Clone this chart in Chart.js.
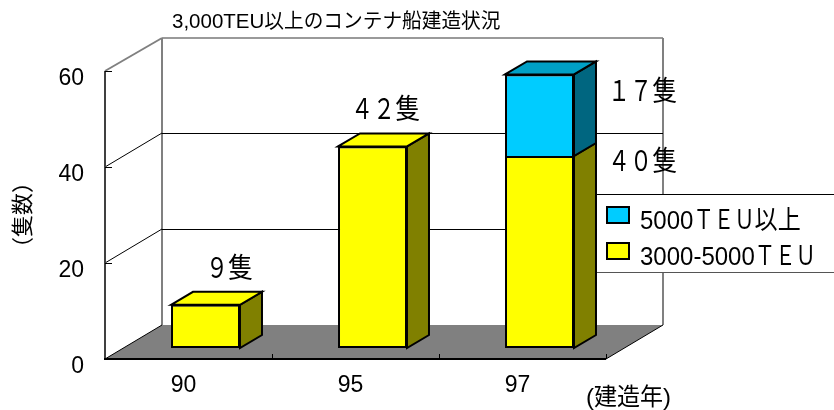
<!DOCTYPE html>
<html>
<head>
<meta charset="utf-8">
<style>
  html, body { margin: 0; padding: 0; background: #fff; }
  canvas { display: block; }
</style>
<script src="https://cdn.jsdelivr.net/npm/chart.js@4"></script>
</head>
<body>
<canvas id="shipChart" width="834" height="410"></canvas>
<script>
const years = ['90', '95', '97'];
const mid = [9, 42, 40];
const large = [null, null, 17];
const midLabel = '3000-5000ＴＥＵ';
const largeLabel = '5000ＴＥＵ以上';
const yTicks = [0, 20, 40, 60];

const chartTitle = '3,000TEU以上のコンテナ船建造状況';
const yTitle = '（隻数）';
const xTitle = '(建造年)';

const FONT = '"Liberation Sans", "Noto Sans CJK JP", sans-serif';
// depth of the 3D box and where the bars sit inside it
const DEPTH_X = 57, DEPTH_Y = 34;
const BAR_X = 17, BAR_Y = 11;
const BAR_DX = 22, BAR_DY = 13;

// left/baseline of the hand placed value labels, per dataset
const valueSpots = [
  [[206, 278], [351, 119], [608, 171]],
  [null, null, [608, 101]]
];

// fullwidth latin is narrow in the original, kanji is not. everything is a bit tall
function drawText(ctx, text, x, y, size, sy) {
  ctx.font = size + 'px ' + FONT;
  ctx.textAlign = 'left';
  ctx.textBaseline = 'alphabetic';
  ctx.fillStyle = '#000';
  const parts = text.match(/[\x00-\x7f]+|[\uff01-\uff5e]+|[^\x00-\x7f\uff01-\uff5e]+/g);
  parts.forEach(p => {
    const sx = /^[\uff01-\uff5e]/.test(p) ? 0.85 : (/^[\x00-\x7f]/.test(p) ? 1 : 0.96);
    ctx.save();
    ctx.translate(x, y);
    ctx.scale(sx, sy || 1);
    ctx.fillText(p, 0, 0);
    ctx.restore();
    x += ctx.measureText(p).width * sx;
  });
}

function toFull(n) {
  return String(n).replace(/[0-9]/g, d => String.fromCharCode(d.charCodeAt(0) + 0xfee0));
}

function poly(ctx, pts, fill, stroke, lw) {
  ctx.beginPath();
  pts.forEach((p, i) => i ? ctx.lineTo(p[0], p[1]) : ctx.moveTo(p[0], p[1]));
  ctx.closePath();
  if (fill) { ctx.fillStyle = fill; ctx.fill(); }
  if (stroke) { ctx.strokeStyle = stroke; ctx.lineWidth = lw; ctx.stroke(); }
}

function line(ctx, x1, y1, x2, y2, color, lw) {
  ctx.beginPath();
  ctx.moveTo(x1, y1);
  ctx.lineTo(x2, y2);
  ctx.strokeStyle = color;
  ctx.lineWidth = lw;
  ctx.stroke();
}

const box3d = {
  id: 'box3d',
  beforeDatasetsDraw(chart) {
    const { ctx, chartArea: a, scales: { y } } = chart;
    const backL = a.left + DEPTH_X, backR = a.right + DEPTH_X;
    const top = y.getPixelForValue(60), zero = y.getPixelForValue(0);

    // floor
    poly(ctx, [[a.left, zero], [a.right, zero], [backR, zero - DEPTH_Y], [backL, zero - DEPTH_Y]], '#808080');

    // walls
    line(ctx, a.left, top, backL, top - DEPTH_Y + 1, '#808080', 2);
    line(ctx, backL, top - DEPTH_Y + 1, backR, top - DEPTH_Y + 1, '#9a9a9a', 2);
    line(ctx, backL, top - DEPTH_Y + 1, backL, zero - DEPTH_Y, '#808080', 2);
    line(ctx, backR, top - DEPTH_Y + 1, backR, zero - DEPTH_Y, '#808080', 2);

    // gridlines
    [20, 40].forEach(v => {
      const py = Math.round(y.getPixelForValue(v));
      line(ctx, a.left, py, backL, py - DEPTH_Y, '#000', 1);
      line(ctx, backL, py - DEPTH_Y + 0.5, backR, py - DEPTH_Y + 0.5, '#000', 1);
    });

    // front axes
    line(ctx, a.left, zero, backL, zero - DEPTH_Y, '#000', 1);
    line(ctx, a.right, zero, backR, zero - DEPTH_Y, '#000', 1);
    line(ctx, a.left, top, a.left, zero + 1, '#404040', 2);
    line(ctx, a.left - 1, zero, a.right, zero, '#000', 2);
    yTicks.forEach(v => {
      const py = Math.round(y.getPixelForValue(v)) + 0.5;
      line(ctx, a.left, py, a.left + 7, py, '#000', 1);
    });
    const band = (a.right - a.left) / years.length;
    years.forEach((_, i) => {
      const px = Math.round(a.left + band * (i + 1)) + 0.5;
      line(ctx, px, zero - 5, px, zero, '#000', 1);
    });

    // bars stand inside the box, not on the front edge
    ctx.save();
    ctx.translate(BAR_X, -BAR_Y);
  },
  afterDatasetsDraw(chart) {
    const { ctx, data } = chart;
    data.datasets.forEach((ds, d) => {
      chart.getDatasetMeta(d).data.forEach((bar, i) => {
        if (ds.data[i] === null) return;
        const { x, y, base, width } = bar.getProps(['x', 'y', 'base', 'width'], true);
        const r = x + width / 2, l = x - width / 2;
        poly(ctx, [[r, y], [r + BAR_DX, y - BAR_DY], [r + BAR_DX, base - BAR_DY], [r, base]], ds.sideColor, '#000', 2);
        const next = data.datasets[d + 1];
        if (!next || next.data[i] === null) {
          poly(ctx, [[l, y], [l + BAR_DX, y - BAR_DY], [r + BAR_DX, y - BAR_DY], [r, y]], ds.topColor, '#000', 2);
        }
      });
    });
    ctx.restore();
  },
  afterDraw(chart) {
    const { ctx, data } = chart;

    drawText(ctx, chartTitle, 172, 28, 20.5);
    drawText(ctx, xTitle, 586, 405, 24);

    data.datasets.forEach((ds, d) => {
      ds.data.forEach((v, i) => {
        if (v === null) return;
        const spot = valueSpots[d][i];
        drawText(ctx, toFull(v) + '隻', spot[0], spot[1], 26, 1.1);
      });
    });

    // legend sits over the back wall and runs off the right edge
    ctx.fillStyle = '#fff';
    ctx.fillRect(597, 194, 240, 78);
    line(ctx, 597, 194.5, 834, 194.5, '#000', 1);
    line(ctx, 597, 272.5, 834, 272.5, '#555', 1);
    [...data.datasets].reverse().forEach((ds, i) => {
      const top = 207 + i * 36;
      poly(ctx, [[607, top], [629, top], [629, top + 16], [607, top + 16]], ds.backgroundColor, '#000', 2);
      drawText(ctx, ds.label, 640, top + 22, 24, 1.1);
    });
  }
};

new Chart(document.getElementById('shipChart'), {
  type: 'bar',
  data: {
    labels: years,
    datasets: [
      {
        label: midLabel,
        data: mid,
        backgroundColor: '#ffff00',
        sideColor: '#808000',
        topColor: '#ffff00',
        borderColor: '#000',
        borderWidth: 2,
        borderSkipped: false
      },
      {
        label: largeLabel,
        data: large,
        backgroundColor: '#00ccff',
        sideColor: '#006680',
        topColor: '#00a0c6',
        borderColor: '#000',
        borderWidth: 2,
        borderSkipped: 'start'
      }
    ]
  },
  options: {
    responsive: false,
    animation: false,
    events: [],
    layout: { padding: { top: 71, right: 228, left: 0, bottom: 0 } },
    categoryPercentage: 0.413,
    barPercentage: 1,
    plugins: { legend: { display: false }, title: { display: false }, tooltip: { enabled: false } },
    scales: {
      x: {
        stacked: true,
        grid: { display: false },
        border: { display: false },
        afterFit: s => { s.height = 51; },
        ticks: {
          color: '#000',
          font: { family: FONT, size: 23 },
          maxRotation: 0,
          padding: 5,
          labelOffset: -5
        }
      },
      y: {
        stacked: true,
        min: 0,
        max: 60,
        grid: { display: false },
        border: { display: false },
        afterFit: s => { s.width = 105; },
        title: {
          display: true,
          text: yTitle,
          color: '#000',
          font: { family: FONT, size: 22 },
          padding: { top: 11, bottom: 0 }
        },
        ticks: {
          color: '#000',
          font: { family: FONT, size: 23 },
          stepSize: 20,
          padding: 13,
          labelOffset: 8
        }
      }
    }
  },
  plugins: [box3d]
});
</script>
</body>
</html>
